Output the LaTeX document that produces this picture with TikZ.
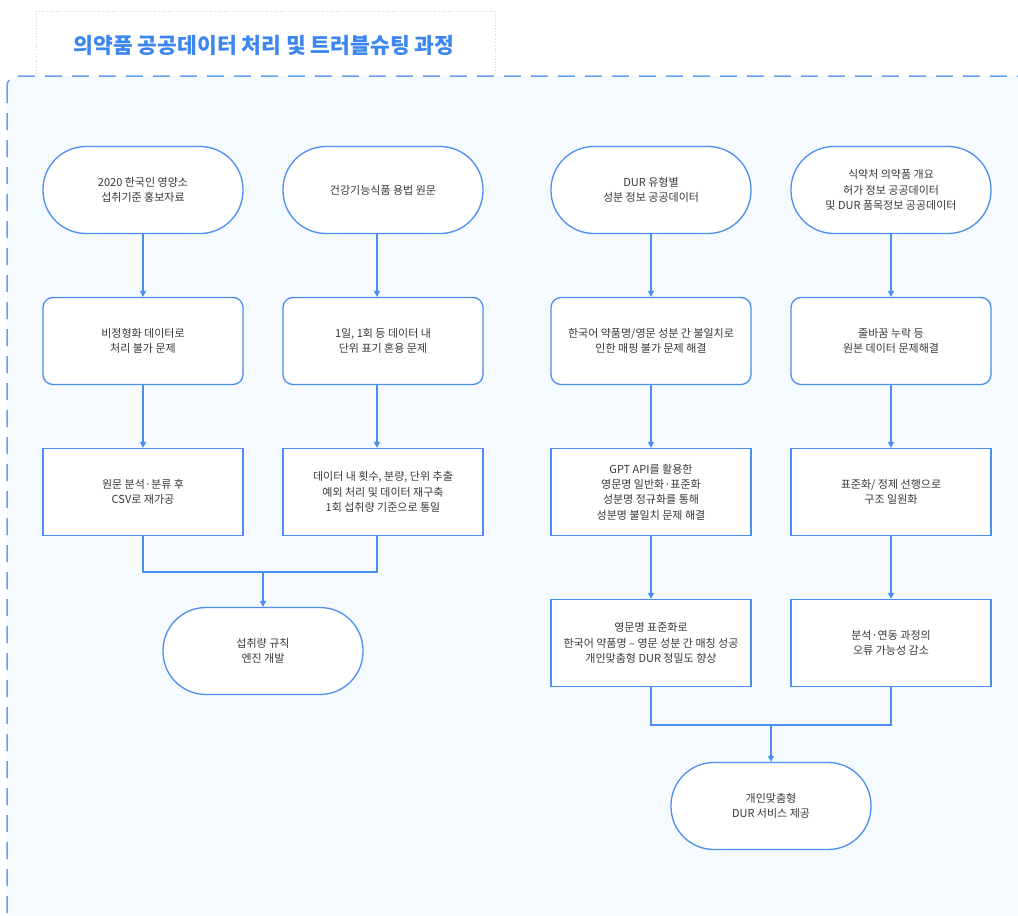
\documentclass[tikz,border=0pt]{standalone}
\usepackage{fontspec}
\setmainfont{Noto Sans CJK KR}
\usetikzlibrary{arrows.meta,positioning}
\definecolor{lineblue}{HTML}{4A8EF0}
\definecolor{titleblue}{HTML}{3B86F0}
\definecolor{bgblue}{HTML}{F5FAFF}
\definecolor{txtgray}{HTML}{383838}
\tikzset{
  base/.style={draw=lineblue, line width=1.3pt, fill=white, text=txtgray,
    font=\fontsize{11pt}{15.3pt}\selectfont, align=center,
    minimum width=200pt, minimum height=87pt, inner sep=0pt},
  stadium/.style={base, rounded corners=43pt},
  rbox/.style={base, rounded corners=10pt},
  sbox/.style={base},
  conn/.style={draw=lineblue, line width=1.2pt},
  arr/.style={conn, -{Triangle[length=6pt,width=6pt]}},
}
\begin{document}
\begin{tikzpicture}[x=1pt,y=-1pt]
\clip (0,0) rectangle (1018,916);
% title box
\draw[gray!35, dotted, line width=0.8pt, fill=white] (36,11) rectangle (495,76);
\node[font=\fontsize{21.5pt}{25pt}\selectfont\bfseries, text=titleblue] (title) at (264,45) {의약품 공공데이터 처리 및 트러블슈팅 과정};
% frame
\draw[draw=lineblue!85, fill=bgblue, line width=1.5pt, dash pattern=on 17pt off 10pt, rounded corners=10pt] (7,76) rectangle (1045,940);
% row 1
\node[stadium] (A1) at (143,190) {2020 한국인 영양소\\섭취기준 홍보자료};
\node[stadium] (B1) at (383,190) {건강기능식품 용법 원문};
\node[stadium] (C1) at (651,190) {DUR 유형별\\성분 정보 공공데이터};
\node[stadium] (D1) at (891,190) {식약처 의약품 개요\\허가 정보 공공데이터\\및 DUR 품목정보 공공데이터};
% row 2
\node[rbox] (A2) at (143,341) {비정형화 데이터로\\처리 불가 문제};
\node[rbox] (B2) at (383,341) {1일, 1회 등 데이터 내\\단위 표기 혼용 문제};
\node[rbox] (C2) at (651,341) {한국어 약품명/영문 성분 간 불일치로\\인한 매핑 불가 문제 해결};
\node[rbox] (D2) at (891,341) {줄바꿈 누락 등\\원본 데이터 문제해결};
% row 3
\node[sbox] (A3) at (143,492) {원문 분석·분류 후\\CSV로 재가공};
\node[sbox] (B3) at (383,492) {데이터 내 횟수, 분량, 단위 추출\\예외 처리 및 데이터 재구축\\1회 섭취량 기준으로 통일};
\node[sbox] (C3) at (651,492) {GPT API를 활용한\\영문명 일반화·표준화\\성분명 정규화를 통해\\성분명 불일치 문제 해결};
\node[sbox] (D3) at (891,492) {표준화/ 정제 선행으로\\구조 일원화};
% row 4
\node[stadium] (E) at (263,651) {섭취량 규칙\\엔진 개발};
\node[sbox] (C4) at (651,643) {영문명 표준화로\\한국어 약품명 – 영문 성분 간 매칭 성공\\개인맞춤형 DUR 정밀도 향상};
\node[sbox] (D4) at (891,643) {분석·연동 과정의\\오류 가능성 감소};
% final
\node[stadium] (F) at (771,806) {개인맞춤형\\DUR 서비스 제공};
% connectors
\foreach \a/\b in {A1/A2,A2/A3,C1/C2,C2/C3,C3/C4,D1/D2,D2/D3,D3/D4}
  \draw[arr] (\a.south) -- (\b.north);
\foreach \a/\b in {B1/B2,B2/B3}
  \draw[arr] ([xshift=-6pt]\a.south) -- ([xshift=-6pt]\b.north);
\coordinate (mL) at (263,572);
\coordinate (mR) at (771,725);
\draw[conn] (A3.south) |- (mL);
\draw[conn] ([xshift=-6pt]B3.south) |- (mL);
\draw[arr] (mL) -- (E.north);
\draw[conn] (C4.south) |- (mR);
\draw[conn] (D4.south) |- (mR);
\draw[arr] (mR) -- (F.north);
\end{tikzpicture}
\end{document}
